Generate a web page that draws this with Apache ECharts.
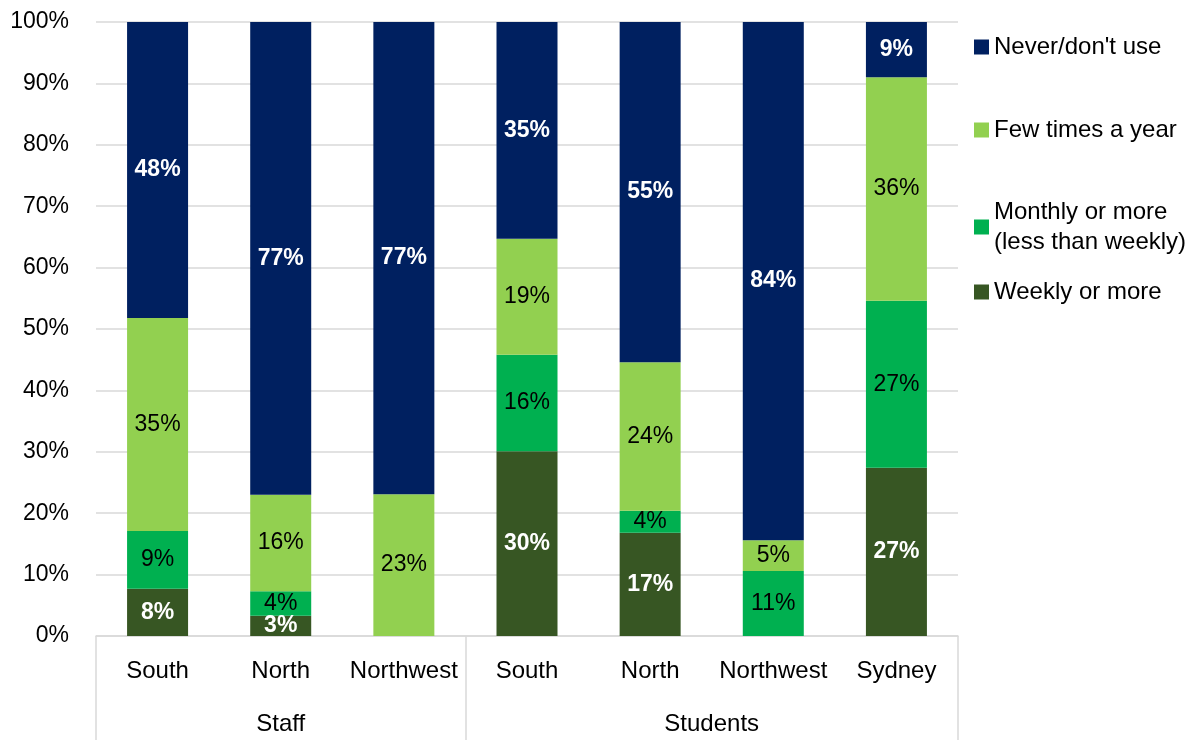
<!DOCTYPE html>
<html>
<head>
<meta charset="utf-8">
<script src="https://cdn.jsdelivr.net/npm/echarts@6/dist/echarts.min.js"></script>
<style>html,body{margin:0;padding:0;background:#fff;}#c{width:1196px;height:740px;}</style>
</head>
<body>
<div id="c"></div>
<script>
var categories = ['South', 'North', 'Northwest', 'South', 'North', 'Northwest', 'Sydney'];
var groups = ['Staff', 'Students'];
var groupCenters = [1.5, 5];
var groupBounds = [0, 3, 7];
var weekly  = [7.7, 3.3, 0, 30.1, 16.8, 0, 27.4];
var monthly = [9.4, 4.0, 0, 15.7, 3.6, 10.6, 27.2];
var fewTimes = [34.7, 15.7, 23.1, 18.9, 24.2, 5.0, 36.4];
var never = [48.2, 77.0, 76.9, 35.3, 55.4, 84.4, 9.0];
var yTicks = [0, 10, 20, 30, 40, 50, 60, 70, 80, 90, 100];

var FONT = '"Liberation Sans", Arial, sans-serif';
var chart = echarts.init(document.getElementById('c'), null, {renderer: 'canvas'});

function mkSeries(name, data, color, white) {
  return {
    name: name, type: 'bar', stack: 'all', data: data, barWidth: 61,
    itemStyle: {color: color},
    label: {
      show: true, position: 'inside', fontFamily: FONT, fontSize: 23,
      color: white ? '#ffffff' : '#000000', fontWeight: white ? 'bold' : 'normal',
      formatter: function (p) { return p.value > 0 ? Math.round(p.value) + '%' : ''; }
    }
  };
}

function mkLegend(name, top, extraPad) {
  return {
    data: [name], left: 969, top: top, orient: 'vertical', itemWidth: 15, itemHeight: 15,
    icon: 'rect', selectedMode: false, itemGap: 0,
    textStyle: {fontFamily: FONT, fontSize: 24, color: '#000', lineHeight: 30, padding: extraPad ? [30, 0, 0, 0] : 0}
  };
}

chart.setOption({
  animation: false,
  grid: {left: 96, right: 238, top: 22, bottom: 104},
  legend: [
    mkLegend("Never/don't use", 27),
    mkLegend('Few times a year', 110),
    mkLegend('Monthly or more\n(less than weekly)', 177, true),
    mkLegend('Weekly or more', 272)
  ],
  xAxis: [{
    type: 'category', data: categories, position: 'bottom',
    axisLine: {show: true, lineStyle: {color: '#d9d9d9', width: 1.5}},
    axisTick: {show: false},
    axisLabel: {fontFamily: FONT, fontSize: 24, color: '#000', margin: 23, interval: 0}
  }, {
    type: 'value', min: 0, max: 7, position: 'bottom',
    splitLine: {show: false},
    axisLine: {show: false},
    axisTick: {show: true, customValues: groupBounds, length: 104, lineStyle: {color: '#d9d9d9', width: 1.5}},
    axisLabel: {
      customValues: groupCenters, fontFamily: FONT, fontSize: 24, color: '#000', margin: 76,
      formatter: function (v) { var i = groupCenters.indexOf(v); return i >= 0 ? groups[i] : ''; }
    }
  }],
  yAxis: {
    type: 'value', min: 0, max: 100, interval: 10,
    axisLine: {show: false}, axisTick: {show: false},
    splitLine: {lineStyle: {color: '#d9d9d9', width: 1.5}},
    axisLabel: {fontFamily: FONT, fontSize: 23, color: '#000', margin: 27,
      formatter: function (v) { return yTicks.indexOf(v) >= 0 ? v + '%' : ''; }}
  },
  series: [
    mkSeries('Weekly or more', weekly, '#375623', true),
    mkSeries('Monthly or more\n(less than weekly)', monthly, '#00B050', false),
    mkSeries('Few times a year', fewTimes, '#92D050', false),
    mkSeries("Never/don't use", never, '#002060', true)
  ]
});
</script>
</body>
</html>
